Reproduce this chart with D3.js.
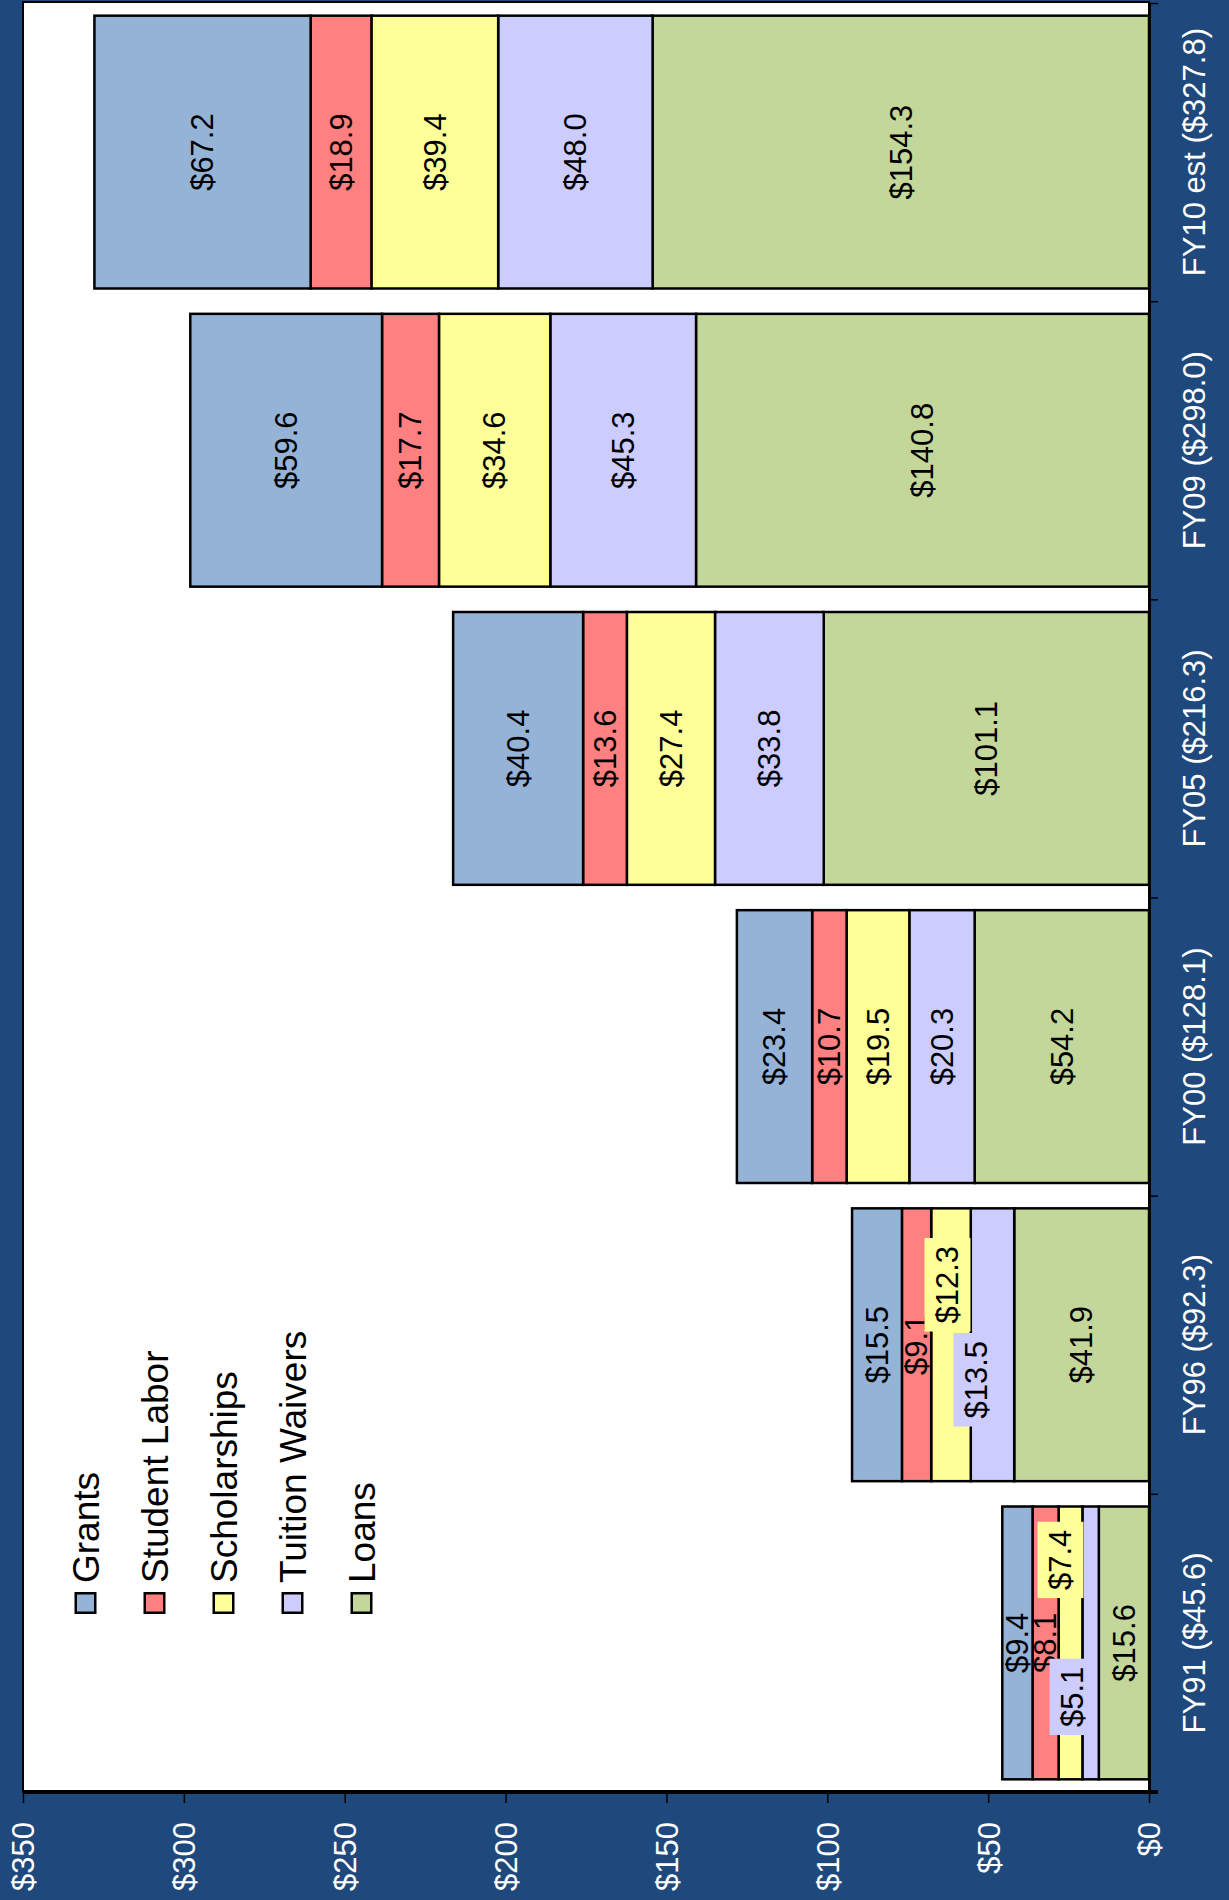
<!DOCTYPE html>
<html>
<head>
<meta charset="utf-8">
<script src="https://cdn.jsdelivr.net/npm/d3@7"></script>
<style>
  body { margin: 0; background: #1F497D; }
  svg { display: block; }
</style>
</head>
<body>
<div id="my_dataviz"></div>
<script>
// data (millions)
var years = ["FY91 ($45.6)", "FY96 ($92.3)", "FY00 ($128.1)", "FY05 ($216.3)", "FY09 ($298.0)", "FY10 est ($327.8)"]
var seriesNames = ["Grants", "Student Labor", "Scholarships", "Tuition Waivers", "Loans"]
var grants = [9.4, 15.5, 23.4, 40.4, 59.6, 67.2]
var studentLabor = [8.1, 9.1, 10.7, 13.6, 17.7, 18.9]
var scholarships = [7.4, 12.3, 19.5, 27.4, 34.6, 39.4]
var tuitionWaivers = [5.1, 13.5, 20.3, 33.8, 45.3, 48.0]
var loans = [15.6, 41.9, 54.2, 101.1, 140.8, 154.3]
var valueTicks = [0, 50, 100, 150, 200, 250, 300, 350]

var colors = {"Grants": "#95B3D7", "Student Labor": "#FF8080", "Scholarships": "#FFFF99", "Tuition Waivers": "#CCCCFF", "Loans": "#C4D79B"}
var font = "'Liberation Sans', Arial, sans-serif"

// labels Excel pushed aside because they did not fit (page dx, dy)
var nudge = {
  "FY91 ($45.6)|Scholarships": [-10, -83],
  "FY91 ($45.6)|Tuition Waivers": [-18, 54],
  "FY96 ($92.3)|Scholarships": [-3.5, -60],
  "FY96 ($92.3)|Tuition Waivers": [-16, 35]
}

var rows = years.map(function(y, i) {
  return {year: y, "Grants": grants[i], "Student Labor": studentLabor[i], "Scholarships": scholarships[i],
          "Tuition Waivers": tuitionWaivers[i], "Loans": loans[i]}
})

var W = 1229, H = 1900
var plot = {left: 23, right: 1149, top: 2, bottom: 1792}

var svg = d3.select("#my_dataviz")
  .append("svg")
    .attr("width", W)
    .attr("height", H)

svg.append("rect").attr("width", W).attr("height", H).attr("fill", "#1F497D")

// chart is drawn rotated: values run right -> left, categories bottom -> top
var x = d3.scaleLinear().domain([0, 350]).range([plot.right, plot.left])
var y = d3.scaleBand()
  .domain(years.slice().reverse())
  .range([plot.top + 1, plot.bottom])
  .paddingInner(0.085)
  .paddingOuter(0.0425)

svg.append("rect")
  .attr("x", plot.left).attr("y", plot.top)
  .attr("width", plot.right - plot.left).attr("height", plot.bottom - plot.top)
  .attr("fill", "white").attr("stroke", "black").attr("stroke-width", 2)

var stack = d3.stack().keys(seriesNames.slice().reverse())
var layers = stack(rows)

svg.selectAll("g.layer")
  .data(layers)
  .enter().append("g")
    .attr("class", "layer")
    .attr("fill", function(d) { return colors[d.key] })
  .selectAll("rect")
  .data(function(d) { return d })
  .enter().append("rect")
    .attr("x", function(d) { return x(d[1]) })
    .attr("width", function(d) { return x(d[0]) - x(d[1]) })
    .attr("y", function(d) { return y(d.data.year) })
    .attr("height", y.bandwidth())
    .attr("stroke", "black")
    .attr("stroke-width", 2.5)

// value labels
var labels = svg.append("g")
layers.slice().reverse().forEach(function(layer) {
  layer.forEach(function(d) {
    var key = d.data.year + "|" + layer.key
    var off = nudge[key] || [0, 0]
    var cx = (x(d[0]) + x(d[1])) / 2 + off[0]
    var cy = y(d.data.year) + y.bandwidth() / 2 + off[1]
    var g = labels.append("g").attr("transform", "translate(" + cx + "," + cy + ") rotate(-90)")
    var box = g.append("rect")
    var t = g.append("text")
      .attr("text-anchor", "middle")
      .attr("dy", "0.35em")
      .style("font-family", font)
      .style("font-size", "31px")
      .attr("fill", "black")
      .text("$" + d3.format(".1f")(d.data[layer.key]))
    if (nudge[key]) {
      var len = t.node().getComputedTextLength()
      box.attr("x", -len / 2 - 8).attr("y", -23).attr("width", len + 16).attr("height", 46)
        .attr("fill", colors[layer.key])
    } else {
      box.remove()
    }
  })
})

// value axis along the bottom
var xAxis = svg.append("g")
  .attr("transform", "translate(0," + plot.bottom + ")")
  .call(d3.axisBottom(x).tickValues(valueTicks).tickSize(11).tickSizeOuter(0)
    .tickFormat(function(d) { return "$" + d }))
xAxis.select(".domain").attr("stroke", "black").attr("stroke-width", 4)
  .attr("d", "M" + plot.left + ",0H" + (plot.right + 9))
xAxis.selectAll(".tick line").attr("stroke", "black").attr("stroke-width", 1.5)
xAxis.selectAll(".tick text")
  .attr("transform", "rotate(-90)")
  .attr("text-anchor", "end")
  .attr("x", -30).attr("y", 0).attr("dy", "0.35em")
  .attr("fill", "white")
  .style("font-family", font)
  .style("font-size", "31px")

// category axis on the right, ticks between categories
var edges = d3.scaleLinear().domain([0, years.length]).range([plot.bottom, plot.top + 1])
var edgeAxis = svg.append("g")
  .attr("transform", "translate(" + plot.right + ",0)")
  .call(d3.axisRight(edges).tickValues(d3.range(years.length + 1)).tickSize(9).tickSizeOuter(0).tickFormat(""))
edgeAxis.select(".domain").attr("stroke", "black").attr("stroke-width", 3)
edgeAxis.selectAll(".tick line").attr("stroke", "black").attr("stroke-width", 1.5)

var catAxis = svg.append("g")
  .attr("transform", "translate(" + plot.right + ",0)")
  .call(d3.axisRight(y).tickSize(0))
catAxis.select(".domain").remove()
catAxis.selectAll(".tick text")
  .attr("transform", "rotate(-90)")
  .attr("text-anchor", "middle")
  .attr("x", 0).attr("y", 45).attr("dy", "0.35em")
  .attr("fill", "white")
  .style("font-family", font)
  .style("font-size", "31px")

// legend (bottom left once rotated)
var legend = svg.append("g")
seriesNames.forEach(function(name, i) {
  var cx = 85.5 + 69 * i, cy = 1603
  legend.append("rect")
    .attr("x", cx - 9.75).attr("y", cy - 9.75)
    .attr("width", 19.5).attr("height", 19.5)
    .attr("fill", colors[name])
    .attr("stroke", "black").attr("stroke-width", 2.5)
  legend.append("text")
    .attr("transform", "translate(" + (cx + 1) + "," + (cy - 20) + ") rotate(-90)")
    .attr("dy", "0.35em")
    .style("font-family", font)
    .style("font-size", "37px")
    .attr("fill", "black")
    .text(name)
})
</script>
</body>
</html>
